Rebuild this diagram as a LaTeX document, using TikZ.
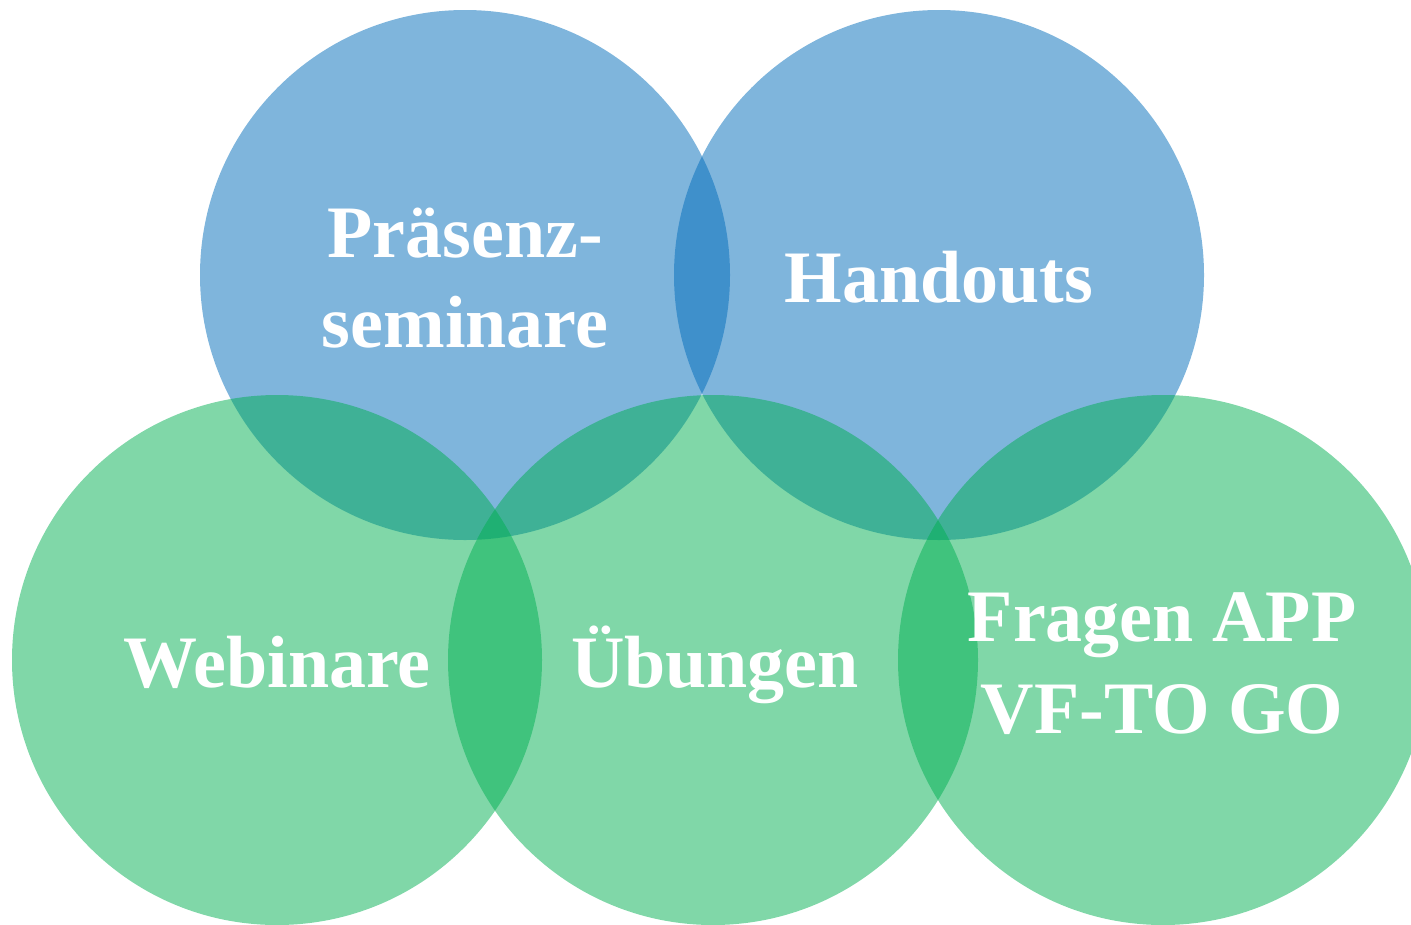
\documentclass[tikz,border=0pt]{standalone}
\usepackage{fontspec}
\setmainfont{Liberation Serif}
\definecolor{cblue}{RGB}{0,107,186}
\definecolor{cgreen}{RGB}{1,175,82}
\begin{document}
\begin{tikzpicture}[x=1pt,y=-1pt,
  bubble/.style={circle,minimum size=530pt,inner sep=0pt,draw=none,fill opacity=0.5},
  bluebubble/.style={bubble,fill=cblue},
  greenbubble/.style={bubble,fill=cgreen},
  lbl/.style={anchor=base,text=white,inner sep=0pt,font=\fontsize{74}{90}\selectfont\bfseries}]
\useasboundingbox (0,0) rectangle (1411,924);
\clip (0,0) rectangle (1411,924);
\node[bluebubble] (c1) at (465,275) {};
\node[bluebubble] (c2) at (939,275) {};
\node[greenbubble] (c3) at (277,660) {};
\node[greenbubble] (c4) at (713,660) {};
\node[greenbubble] (c5) at (1163,660) {};
\node[lbl] (t1a) at (465,257) {Präsenz-};
\node[lbl] (t1b) at (465,347) {seminare};
\node[lbl] (t2) at (939,302) {Handouts};
\node[lbl] (t3) at (277,687) {Webinare};
\node[lbl] (t4) at (715,687) {Übungen};
\node[lbl] (t5a) at (1162,641) {Fragen APP};
\node[lbl] (t5b) at (1162,733) {VF-TO GO};
\end{tikzpicture}
\end{document}
